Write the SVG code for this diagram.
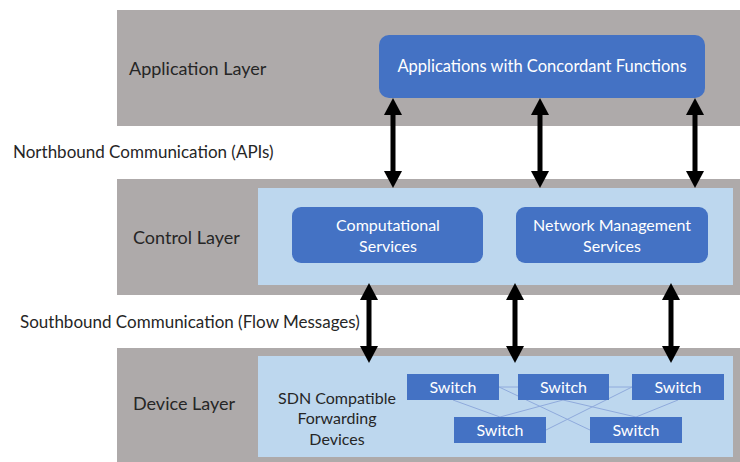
<svg xmlns="http://www.w3.org/2000/svg" width="740" height="462" viewBox="0 0 740 462">
  <defs>
    <marker id="head" viewBox="0 0 17 18" refX="9" refY="9" markerWidth="17" markerHeight="18" markerUnits="userSpaceOnUse" orient="auto-start-reverse">
      <path d="M0,0 L17,9 L0,18 Z" fill="#000"/>
    </marker>
    <style>
      .layer { fill: #aeaaaa; }
      .panel { fill: #bdd7ee; }
      .box { fill: #4472c4; }
      .label { font-family: "Lato", "Open Sans", sans-serif; font-size: 17px; fill: #262626; }
      .layername { font-family: "Lato", "Open Sans", sans-serif; font-size: 18px; fill: #262626; }
      .boxtext { font-family: "Lato", "Open Sans", sans-serif; font-size: 16px; fill: #ffffff; text-anchor: middle; }
      .apptext { font-size: 16.5px; }
      .dark { font-family: "Lato", "Open Sans", sans-serif; font-size: 16px; fill: #262626; text-anchor: middle; }
      .arrow { stroke: #000; stroke-width: 5; marker-start: url(#head); marker-end: url(#head); }
      .mesh { stroke: #8faadc; stroke-width: 1; fill: none; }
    </style>
  </defs>

  <rect width="740" height="462" fill="#ffffff"/>

  <!-- Application layer -->
  <g id="application-layer">
    <rect class="layer" x="117" y="10" width="623" height="116"/>
    <text class="layername" x="129" y="75">Application Layer</text>
  </g>
  <g id="applications">
    <rect class="box" x="379" y="35" width="326" height="63" rx="10"/>
    <text class="boxtext apptext" x="542" y="72">Applications with Concordant Functions</text>
  </g>

  <text id="northbound" class="label" x="13" y="158">Northbound Communication (APIs)</text>

  <!-- Control layer -->
  <g id="control-layer">
    <rect class="layer" x="117" y="179" width="623" height="116"/>
    <rect class="panel" x="258" y="188" width="475" height="97"/>
    <text class="layername" x="133" y="244">Control Layer</text>
  </g>
  <g id="computational-services">
    <rect class="box" x="292" y="207" width="191" height="56" rx="9"/>
    <text class="boxtext" x="388" y="231">Computational</text>
    <text class="boxtext" x="388" y="252">Services</text>
  </g>
  <g id="network-management-services">
    <rect class="box" x="516" y="207" width="192" height="56" rx="9"/>
    <text class="boxtext" x="612" y="231">Network Management</text>
    <text class="boxtext" x="612" y="252">Services</text>
  </g>

  <text id="southbound" class="label" x="20" y="328">Southbound Communication (Flow Messages)</text>

  <!-- Device layer -->
  <g id="device-layer">
    <rect class="layer" x="117" y="348" width="623" height="114"/>
    <rect class="panel" x="258" y="356" width="475" height="101"/>
    <text class="layername" x="133" y="410">Device Layer</text>
    <text class="dark" x="337" y="404">SDN Compatible</text>
    <text class="dark" x="337" y="424">Forwarding</text>
    <text class="dark" x="337" y="445">Devices</text>
  </g>

  <!-- Links between the forwarding switches -->
  <g id="switch-links">
    <line class="mesh" x1="499" y1="387" x2="518" y2="387"/>
    <line class="mesh" x1="609" y1="387" x2="632" y2="387"/>
    <line class="mesh" x1="499" y1="387" x2="590" y2="430"/>
    <line class="mesh" x1="632" y1="387" x2="546" y2="430"/>
    <line class="mesh" x1="453" y1="400" x2="500" y2="417"/>
    <line class="mesh" x1="563" y1="400" x2="500" y2="417"/>
    <line class="mesh" x1="563" y1="400" x2="636" y2="417"/>
    <line class="mesh" x1="678" y1="400" x2="636" y2="417"/>
  </g>

  <g id="switch-1">
    <rect class="box" x="407" y="374" width="92" height="26"/>
    <text class="boxtext" x="453" y="393">Switch</text>
  </g>
  <g id="switch-2">
    <rect class="box" x="518" y="374" width="91" height="26"/>
    <text class="boxtext" x="563.5" y="393">Switch</text>
  </g>
  <g id="switch-3">
    <rect class="box" x="632" y="374" width="92" height="26"/>
    <text class="boxtext" x="678" y="393">Switch</text>
  </g>
  <g id="switch-4">
    <rect class="box" x="454" y="417" width="92" height="26"/>
    <text class="boxtext" x="500" y="436">Switch</text>
  </g>
  <g id="switch-5">
    <rect class="box" x="590" y="417" width="92" height="26"/>
    <text class="boxtext" x="636" y="436">Switch</text>
  </g>

  <!-- Northbound and southbound connectors -->
  <g id="connectors">
    <line class="arrow" x1="393" y1="106" x2="393" y2="180"/>
    <line class="arrow" x1="540" y1="106" x2="540" y2="180"/>
    <line class="arrow" x1="695" y1="106" x2="695" y2="180"/>
    <line class="arrow" x1="369" y1="291" x2="369" y2="355"/>
    <line class="arrow" x1="515" y1="291" x2="515" y2="355"/>
    <line class="arrow" x1="671" y1="291" x2="671" y2="355"/>
  </g>
</svg>
